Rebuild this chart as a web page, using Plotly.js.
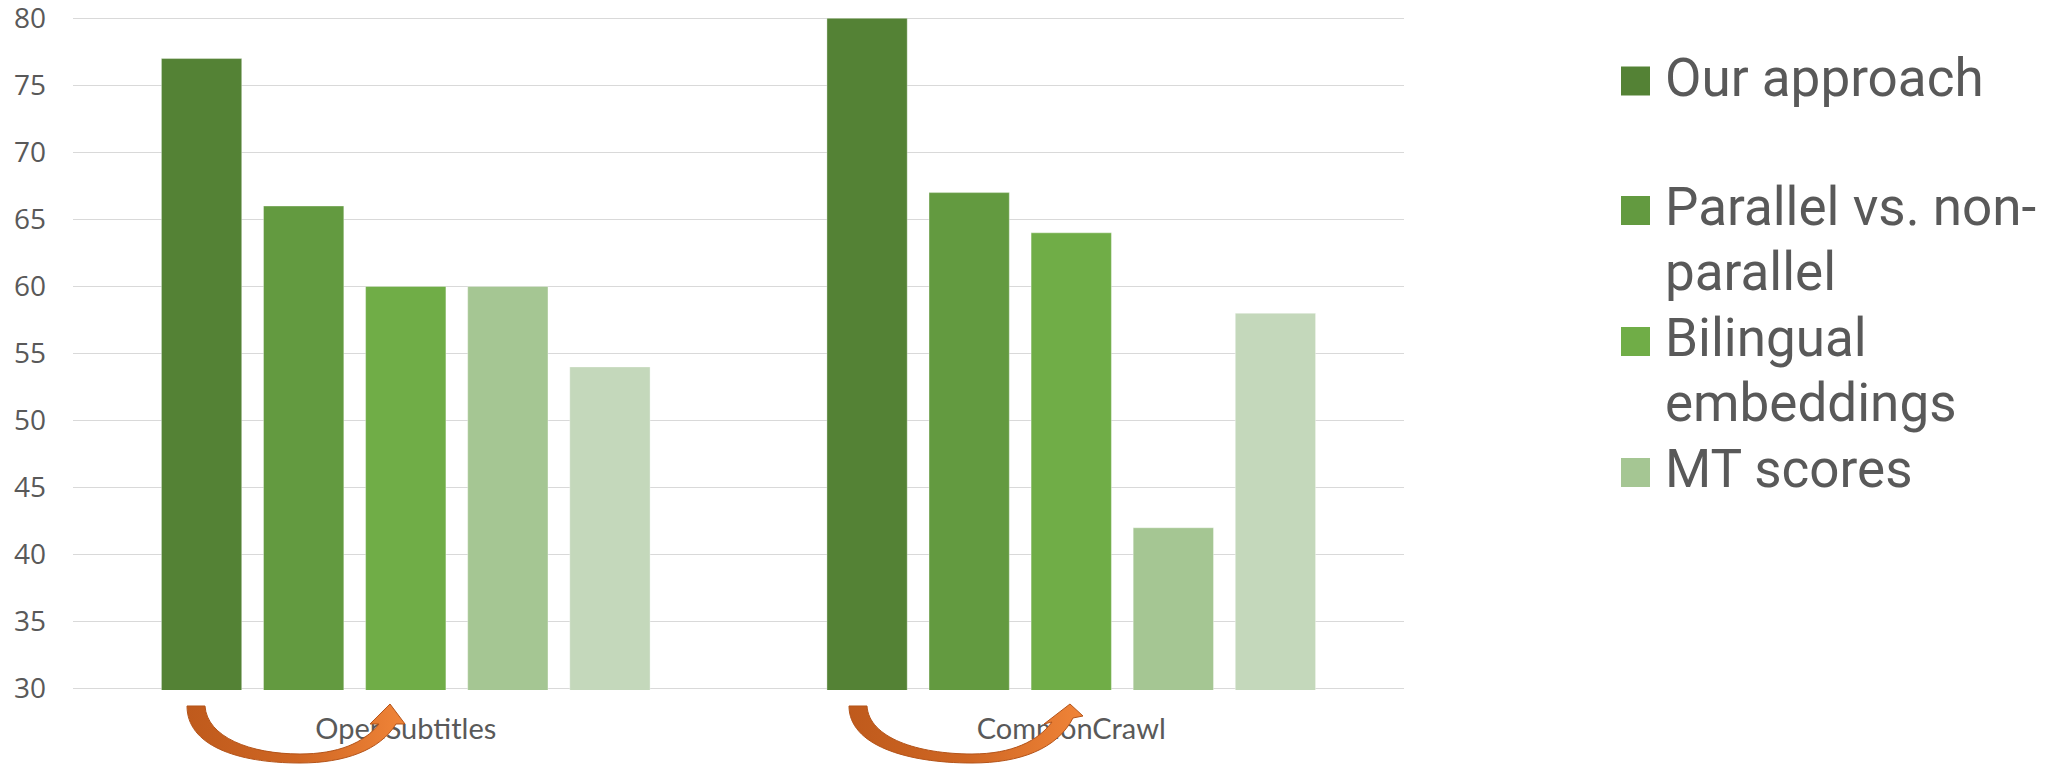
<!DOCTYPE html>
<html>
<head>
<meta charset="utf-8">
<script src="https://cdn.plot.ly/plotly-3.0.1.min.js"></script>
<style>
  html, body { margin: 0; padding: 0; background: #ffffff; }
  #chart { width: 2048px; height: 764px; }
</style>
</head>
<body>
<div id="chart"></div>
<script>
// Corpora on the x axis
const categories = ['OpenSubtitles', 'CommonCrawl'];

// Scores per method
const ourApproach = [77, 80];
const parallelVsNonParallel = [66, 67];
const bilingualEmbeddings = [60, 64];
const mtScores = [60, 42];
const series5 = [54, 58];

const seriesNames = ['Our approach', 'Parallel vs. non-parallel', 'Bilingual embeddings', 'MT scores', 'Series 5'];
const seriesValues = [ourApproach, parallelVsNonParallel, bilingualEmbeddings, mtScores, series5];
const seriesColors = ['#548235', '#639a40', '#70ad47', '#a5c693', '#c4d8bb'];

// Legend text, wrapped as in the side panel (the fifth series has no entry)
const legendLines = [['Our approach'], ['Parallel vs. non-', 'parallel'], ['Bilingual', 'embeddings'], ['MT scores']];

// Value axis
const yMin = 30, yMax = 80, yStep = 5;

// Page geometry in pixels
const W = 2048, H = 764;
const ML = 73, MR = 644, MT = 17, MB = 74;
const PW = W - ML - MR, PH = H - MT - MB;
const px = x => (x - ML) / PW;
const py = y => (MT + PH - y) / PH;
const pt = (x, y) => px(x).toFixed(5) + ',' + py(y).toFixed(5);

const traces = seriesValues.map((vals, i) => ({
  type: 'bar',
  name: seriesNames[i],
  x: categories,
  y: vals,
  marker: { color: seriesColors[i], line: { color: 'rgba(255,255,255,0.35)', width: 1 } },
  showlegend: false,
  hoverinfo: 'x+y+name'
}));

// Custom legend: square swatches with wrapped labels
const shapes = [];
const annotations = [];
const legendRowY = [81, 210.5, 341.5, 472.5];
legendLines.forEach((lines, i) => {
  const yc = legendRowY[i];
  shapes.push({
    type: 'rect', xref: 'paper', yref: 'paper', layer: 'above',
    x0: px(1621), x1: px(1650), y0: py(yc + 14.5), y1: py(yc - 14.5),
    fillcolor: seriesColors[i], line: { width: 0 }
  });
  lines.forEach((t, j) => {
    annotations.push({
      xref: 'paper', yref: 'paper', x: px(1663), y: py(yc - 3.5 + j * 64.5),
      xanchor: 'left', yanchor: 'middle', showarrow: false, text: t,
      font: { family: 'Roboto, sans-serif', size: 53, color: '#595959' }
    });
  });
});

// Curved orange arrows under each group
function pathFrom(cmds) {
  return cmds.map(c => c[0] + ' ' + c.slice(1).map(p => pt(p[0], p[1])).join(' ')).join(' ') + ' Z';
}
const arrowA = [
  ['M', [187, 706]], ['L', [205, 706]],
  ['C', [207, 737], [250, 754], [300, 754]],
  ['C', [338, 754], [364, 743], [379, 724]],
  ['L', [370, 724]], ['L', [390, 704]], ['L', [405, 724]], ['L', [396, 724]],
  ['C', [380, 750], [345, 763], [300, 763]],
  ['C', [236, 763], [187, 745], [187, 706]]
];
const arrowB = [
  ['M', [849, 706]], ['L', [867, 706]],
  ['C', [869, 738], [918, 754], [972, 754]],
  ['C', [1012, 754], [1038, 741], [1052, 722]],
  ['L', [1044, 724]], ['L', [1070, 704]], ['L', [1083, 716]], ['L', [1073, 718]],
  ['C', [1057, 749], [1020, 763], [972, 763]],
  ['C', [906, 763], [849, 745], [849, 706]]
];
[arrowA, arrowB].forEach(a => shapes.push({
  type: 'path', xref: 'paper', yref: 'paper', layer: 'above',
  path: pathFrom(a), fillcolor: '#d86a26', line: { color: '#b4541a', width: 1 }
}));

const layout = {
  width: W, height: H,
  margin: { l: ML, r: MR, t: MT, b: MB, pad: 0 },
  paper_bgcolor: '#ffffff', plot_bgcolor: '#ffffff',
  barmode: 'group', bargap: 0.233, bargroupgap: 0.2135,
  showlegend: false,
  xaxis: {
    type: 'category', showgrid: false, zeroline: false, showline: false, ticks: '',
    tickfont: { family: 'Lato, sans-serif', size: 29, color: '#595959' },
    ticklabelstandoff: 19, fixedrange: true
  },
  yaxis: {
    range: [yMin - 0.1, yMax + 0.1], autorange: false,
    tickmode: 'linear', tick0: yMin, dtick: yStep,
    showgrid: true, gridcolor: '#d9d9d9', gridwidth: 1.6, zeroline: false, showline: false, ticks: '',
    tickfont: { family: '"Open Sans", sans-serif', size: 28, color: '#595959' },
    ticklabelstandoff: 26, ticklabeloverflow: 'allow', fixedrange: true
  },
  shapes: shapes,
  annotations: annotations
};

Plotly.newPlot('chart', traces, layout, { displayModeBar: false, staticPlot: true }).then(gd => {
  // Left-to-right orange gradient on the arrows
  const svg = gd.querySelector('.main-svg');
  const ns = 'http://www.w3.org/2000/svg';
  let defs = svg.querySelector('defs');
  if (!defs) { defs = document.createElementNS(ns, 'defs'); svg.insertBefore(defs, svg.firstChild); }
  const grad = document.createElementNS(ns, 'linearGradient');
  grad.setAttribute('id', 'arrowGrad');
  grad.setAttribute('x1', '0'); grad.setAttribute('y1', '0');
  grad.setAttribute('x2', '1'); grad.setAttribute('y2', '0');
  [['0', '#bf5a1c'], ['0.5', '#cf6623'], ['1', '#f08438']].forEach(([o, c]) => {
    const s = document.createElementNS(ns, 'stop');
    s.setAttribute('offset', o); s.setAttribute('stop-color', c);
    grad.appendChild(s);
  });
  defs.appendChild(grad);
  gd.querySelectorAll('path').forEach(p => {
    const f = (p.getAttribute('style') || '') + ' ' + window.getComputedStyle(p).fill;
    if (f.replace(/\s/g, '').indexOf('rgb(216,106,38)') !== -1) {
      p.style.setProperty('fill', 'url(#arrowGrad)');
      p.style.setProperty('fill-opacity', '1');
    }
  });
});
</script>
</body>
</html>
